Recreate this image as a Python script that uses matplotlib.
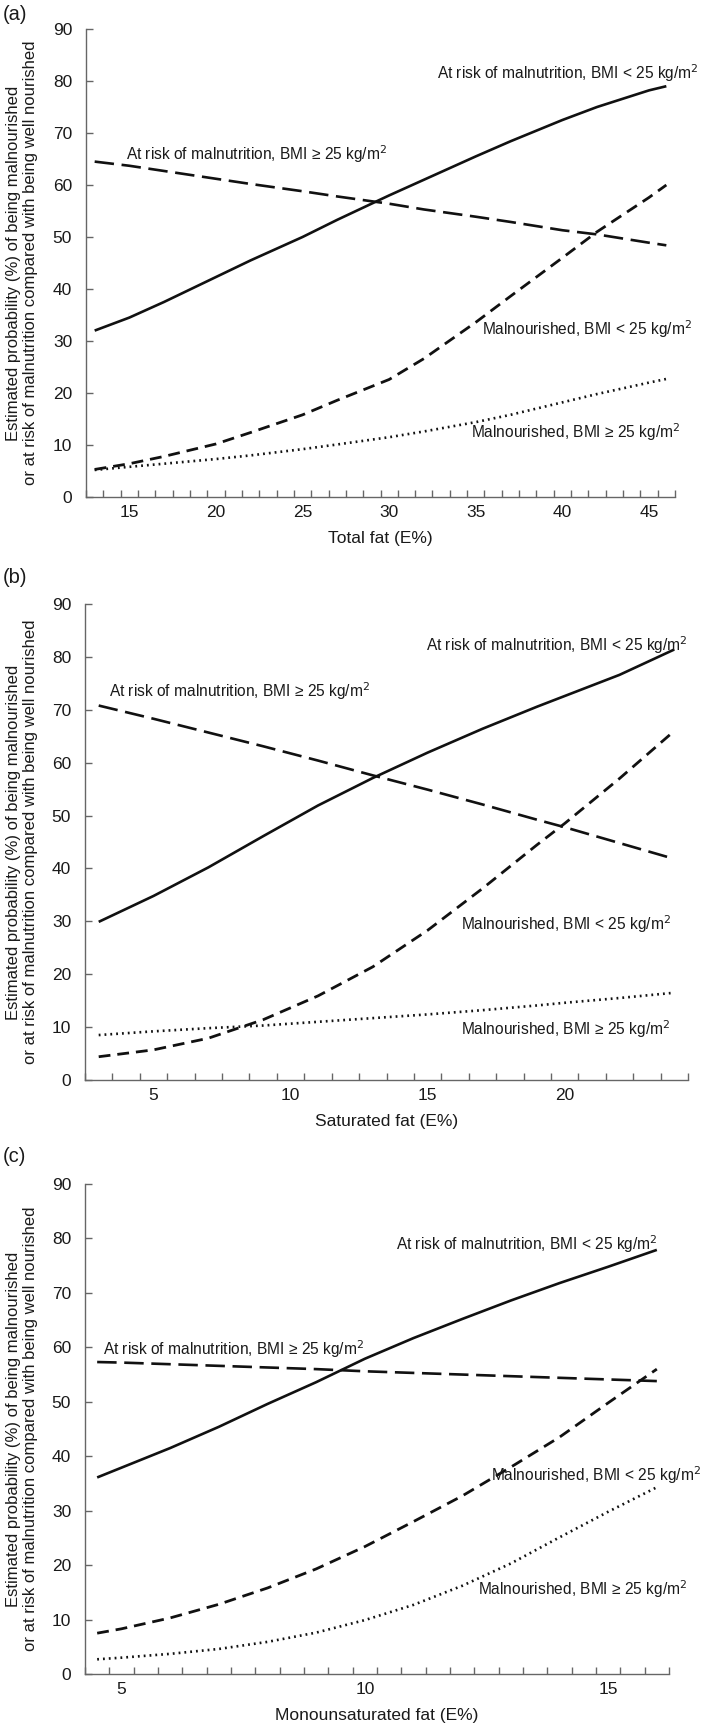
import matplotlib
matplotlib.use("Agg")
import matplotlib.pyplot as plt
from matplotlib.ticker import FixedLocator

plt.rcParams['font.family'] = ['Liberation Sans', 'DejaVu Sans']
plt.rcParams['mathtext.fontset'] = 'custom'
plt.rcParams['mathtext.rm'] = 'Liberation Sans Narrow'
plt.rcParams['mathtext.it'] = 'Liberation Sans Narrow'
plt.rcParams['mathtext.bf'] = 'Liberation Sans Narrow'
plt.rcParams['lines.scale_dashes'] = False

# ---------------- data ----------------
# (a) Total fat
a_x = [13, 15, 17, 20, 22, 25, 27, 30, 32, 35, 37, 40, 42, 45, 46]
a_risk_lt25 = [32.0, 34.5, 37.5, 42.3, 45.5, 50.0, 53.3, 58.0, 61.0, 65.5, 68.4, 72.5, 75.0, 78.2, 79.0]
a_risk_ge25 = [64.5, 63.7, 62.7, 61.2, 60.2, 58.8, 57.8, 56.4, 55.3, 53.9, 52.9, 51.3, 50.5, 48.9, 48.4]
a_mal_lt25 = [5.3, 6.4, 7.8, 10.2, 12.4, 15.8, 18.6, 22.6, 26.6, 33.6, 38.6, 46.0, 51.0, 57.6, 60.0]
a_mal_ge25 = [5.2, 5.8, 6.4, 7.3, 8.0, 9.2, 10.1, 11.5, 12.6, 14.4, 15.8, 18.2, 19.8, 22.0, 22.7]
a_ticks = [15, 20, 25, 30, 35, 40, 45]

# (b) Saturated fat
b_x = [3, 5, 7, 9, 11, 13, 15, 17, 19, 20, 22, 24]
b_risk_lt25 = [29.9, 34.8, 40.2, 46.1, 51.9, 57.1, 61.9, 66.4, 70.6, 72.6, 76.6, 81.4]
b_risk_ge25 = [70.8, 68.3, 65.7, 63.1, 60.4, 57.6, 54.9, 52.1, 49.2, 47.8, 44.8, 41.8]
b_mal_lt25 = [4.4, 5.7, 7.9, 11.4, 15.9, 21.4, 28.3, 36.2, 44.5, 48.5, 57.0, 66.0]
b_mal_ge25 = [8.5, 9.2, 9.8, 10.3, 11.0, 11.7, 12.4, 13.2, 14.1, 14.6, 15.5, 16.5]
b_ticks = [5, 10, 15, 20]

# (c) Monounsaturated fat
c_x = [4.5, 5, 6, 7, 8, 9, 10, 11, 12, 13, 14, 15, 16]
c_risk_lt25 = [36.1, 37.9, 41.5, 45.4, 49.6, 53.6, 57.9, 61.7, 65.2, 68.6, 71.8, 74.8, 77.9]
c_risk_ge25 = [57.3, 57.2, 56.9, 56.6, 56.3, 56.0, 55.6, 55.3, 55.0, 54.7, 54.4, 54.1, 53.8]
c_mal_lt25 = [7.5, 8.3, 10.3, 12.8, 15.8, 19.3, 23.4, 28.0, 32.7, 38.0, 43.5, 49.8, 56.0]
c_mal_ge25 = [2.7, 3.0, 3.7, 4.6, 5.9, 7.6, 9.9, 12.7, 16.2, 20.3, 25.1, 29.8, 34.3]
c_ticks = [5, 10, 15]

y_ticks = [0, 10, 20, 30, 40, 50, 60, 70, 80, 90]

lab_risk_lt25 = 'At risk of malnutrition, BMI < 25 kg/m$^{2}$'
lab_risk_ge25 = 'At risk of malnutrition, BMI \u2265 25 kg/m$^{2}$'
lab_mal_lt25 = 'Malnourished, BMI < 25 kg/m$^{2}$'
lab_mal_ge25 = 'Malnourished, BMI \u2265 25 kg/m$^{2}$'

ylabel = ('Estimated probability (%) of being malnourished\n'
          'or at risk of malnutrition compared with being well nourished')

panels = [
    dict(tag='(a)', x=a_x, s=[a_risk_lt25, a_risk_ge25, a_mal_lt25, a_mal_ge25],
         xlim=(12.5, 46.5), step=1.0, ticks=a_ticks, xlabel='Total fat (E%)',
         rect=[86/704, 1-497/1730, 589/704, 468/1730], tagy=15,
         ann=[(32.75, 81.5), (14.8, 66.0), (35.35, 32.3), (34.7, 12.5)]),
    dict(tag='(b)', x=b_x, s=[b_risk_lt25, b_risk_ge25, b_mal_lt25, b_mal_ge25],
         xlim=(2.5, 24.5), step=1.0, ticks=b_ticks, xlabel='Saturated fat (E%)',
         rect=[85/704, 1-1080/1730, 603/704, 476/1730], tagy=577,
         ann=[(14.95, 82.3), (3.36, 73.6), (16.2, 29.4), (16.2, 9.7)]),
    dict(tag='(c)', x=c_x, s=[c_risk_lt25, c_risk_ge25, c_mal_lt25, c_mal_ge25],
         xlim=(4.25, 16.25), step=0.5, ticks=c_ticks, xlabel='Monounsaturated fat (E%)',
         rect=[85/704, 1-1674/1730, 584/704, 490/1730], tagy=1157,
         ann=[(10.64, 78.9), (4.61, 59.7), (12.6, 36.6), (12.33, 15.6)]),
]

styles = [
    dict(ls='-', lw=1.9),
    dict(ls=(0, (14, 5.5)), lw=1.9),
    dict(ls=(0, (8.5, 5)), lw=2.0),
    dict(ls=(0, (1.3, 2.9)), lw=1.9),
]
labels = [lab_risk_lt25, lab_risk_ge25, lab_mal_lt25, lab_mal_ge25]

fig = plt.figure(figsize=(7.04, 17.30), dpi=100)
axis_col = '#666666'
txt_col = '#1a1a1a'
narrow = ['Liberation Sans Narrow', 'Liberation Sans', 'DejaVu Sans']

for p in panels:
    ax = fig.add_axes(p['rect'])
    for series, st in zip(p['s'], styles):
        ax.plot(p['x'], series, color='#111111', solid_capstyle='butt',
                dash_capstyle='butt', **st)
    ax.set_xlim(*p['xlim'])
    ax.set_ylim(0, 90)
    for side in ('top', 'right'):
        ax.spines[side].set_visible(False)
    for side in ('left', 'bottom'):
        ax.spines[side].set_color(axis_col)
        ax.spines[side].set_linewidth(1.0)
    ax.set_yticks(y_ticks)
    ax.set_xticks(p['ticks'])
    lo, hi = p['xlim']
    n = int(round((hi - lo) / p['step']))
    ax.xaxis.set_minor_locator(FixedLocator([lo + i * p['step'] for i in range(n + 1)]))
    ax.tick_params(axis='x', which='major', length=0, pad=6, labelsize=12.5, labelcolor=txt_col)
    ax.tick_params(axis='x', which='minor', direction='in', length=5, width=1.0, color=axis_col)
    ax.tick_params(axis='y', which='major', direction='in', length=5, width=1.0,
                   color=axis_col, pad=10, labelsize=12.5, labelcolor=txt_col)
    ax.set_xlabel(p['xlabel'], fontsize=12.5, color=txt_col, labelpad=8, family=narrow)
    for lab, (tx, ty) in zip(labels, p['ann']):
        ax.text(tx, ty, lab, fontsize=11.2, color=txt_col, ha='left', va='center',
                family=narrow, clip_on=False)
    # panel tag
    fig.text(3/704, 1 - p['tagy']/1730, p['tag'], fontsize=14.5, color=txt_col,
             ha='left', va='center')
    # y label
    r = p['rect']
    fig.text(22/704, r[1] + r[3]/2, ylabel, rotation=90, fontsize=12, color=txt_col,
             ha='center', va='center', multialignment='center', linespacing=1.15)

fig.savefig('out.png', dpi=100, facecolor='white')
